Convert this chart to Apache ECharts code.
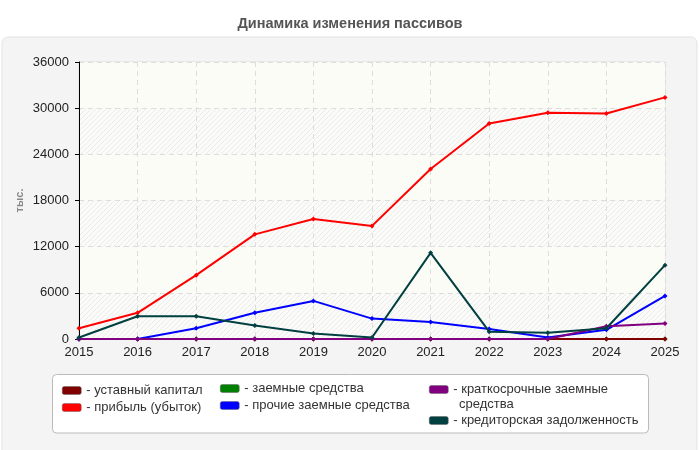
<!DOCTYPE html>
<html>
<head>
<meta charset="utf-8">
<script src="https://cdn.jsdelivr.net/npm/echarts@6/dist/echarts.min.js"></script>
<style>
  html, body { margin: 0; padding: 0; background: #fff; }
  #chart { width: 700px; height: 450px; }
</style>
</head>
<body>
<div id="chart"></div>
<script>
let years = ['2015', '2016', '2017', '2018', '2019', '2020', '2021', '2022', '2023', '2024', '2025'];

let ustavCapital = [10, 10, 10, 10, 10, 10, 10, 10, 10, 10, 10];
let profit = [1400, 3400, 8300, 13600, 15600, 14700, 22100, 28000, 29400, 29300, 31400];
let loans = [0, 0, 0, 0, 0, 0, 0, 0, 0, 0, 0];
let otherLoans = [0, 0, 1400, 3400, 4950, 2650, 2200, 1300, 200, 1200, 5600];
let shortLoans = [0, 0, 0, 0, 0, 0, 0, 0, 0, 1650, 2000];
let payables = [200, 2950, 2950, 1750, 700, 200, 11200, 950, 800, 1400, 9600];

let font = '"Liberation Sans", Arial, sans-serif';

// faint diagonal hatching for every other band
let hatch = document.createElement('canvas');
hatch.width = 5;
hatch.height = 5;
let hctx = hatch.getContext('2d');
hctx.fillStyle = '#fbfbf9';
hctx.fillRect(0, 0, 5, 5);
hctx.fillStyle = '#ebebe9';
for (let i = 0; i < 5; i++) {
  hctx.fillRect(4 - i, i, 1, 1);
}

let chart = echarts.init(document.getElementById('chart'));

function line(name, data, color, z) {
  return {
    name: name,
    type: 'line',
    data: data,
    z: z,
    symbol: 'diamond',
    symbolSize: 5,
    showSymbol: true,
    lineStyle: { color: color, width: 2 },
    itemStyle: { color: color },
    emphasis: { disabled: true }
  };
}

function legend(left, top, data, extra) {
  return Object.assign({
    left: left,
    top: top,
    data: data,
    orient: 'vertical',
    padding: 0,
    itemWidth: 19,
    itemHeight: 8,
    itemGap: 2,
    icon: 'roundRect',
    selectedMode: false,
    itemStyle: { borderColor: '#666', borderWidth: 0.5 },
    textStyle: { fontFamily: font, fontSize: 13, color: '#333', lineHeight: 15 },
    formatter: function (name) {
      if (name === 'краткосрочные заемные средства') {
        return '- краткосрочные заемные';
      }
      return '- ' + name;
    }
  }, extra || {});
}

let option = {
  animation: false,
  title: {
    text: 'Динамика изменения пассивов',
    left: 'center',
    top: 11,
    textStyle: { fontFamily: font, fontSize: 14.5, fontWeight: 'bold', color: '#555' }
  },
  graphic: [
    {
      type: 'rect',
      z: -10,
      shape: { x: 2, y: 37, width: 695, height: 425, r: 6 },
      style: { fill: '#f4f4f4', stroke: '#e2e2e2', lineWidth: 1 }
    },
    {
      type: 'rect',
      z: -9,
      shape: { x: 52.5, y: 374.5, width: 596, height: 58.5, r: 4 },
      style: { fill: '#ffffff', stroke: '#bbbbbb', lineWidth: 1 }
    },
    {
      // second line of the wrapped legend entry
      type: 'text',
      z: 10,
      x: 459,
      y: 404,
      style: {
        text: 'средства',
        font: '13px ' + font,
        fill: '#333',
        textVerticalAlign: 'middle'
      }
    }
  ],
  legend: [
    legend(62, 383, ['уставный капитал', 'прибыль (убыток)']),
    legend(220, 381, ['заемные средства', 'прочие заемные средства']),
    legend(429, 382, ['краткосрочные заемные средства']),
    legend(429, 413, ['кредиторская задолженность'])
  ],
  grid: {
    left: 79,
    right: 35,
    top: 62,
    bottom: 111,
    show: true,
    backgroundColor: 'transparent',
    borderColor: '#dddddd',
    borderWidth: 1
  },
  xAxis: {
    type: 'category',
    data: years,
    boundaryGap: false,
    axisLine: { lineStyle: { color: '#000', width: 1 } },
    axisTick: { show: false },
    axisLabel: { fontFamily: font, fontSize: 13, color: '#222', margin: 7 },
    splitLine: { show: true, lineStyle: { color: '#dddddd', type: [5, 4] } }
  },
  yAxis: {
    type: 'value',
    min: 0,
    max: 36000,
    interval: 6000,
    name: 'тыс.',
    nameLocation: 'middle',
    nameRotate: 90,
    nameGap: 54,
    nameMoveOverlap: false,
    nameTextStyle: { fontFamily: font, fontSize: 11, fontWeight: 'bold', color: '#888' },
    axisLine: { show: true, lineStyle: { color: '#000', width: 1 } },
    axisTick: { show: true, length: 4, lineStyle: { color: '#000' } },
    axisLabel: {
      fontFamily: font, fontSize: 13, color: '#222', margin: 10,
      formatter: function (v) { return String(v); }
    },
    splitLine: { show: true, lineStyle: { color: '#dddddd', type: [5, 4] } },
    splitArea: {
      show: true,
      areaStyle: { color: [{ image: hatch, repeat: 'repeat' }, '#fcfcf6'] }
    }
  },
  series: [
    line('заемные средства', loans, '#008000', 1),
    line('уставный капитал', ustavCapital, '#800000', 2),
    line('прибыль (убыток)', profit, '#ff0000', 3),
    line('прочие заемные средства', otherLoans, '#0000ff', 5),
    line('краткосрочные заемные средства', shortLoans, '#800080', 6),
    line('кредиторская задолженность', payables, '#004040', 7)
  ]
};

option && chart.setOption(option);
</script>
</body>
</html>
